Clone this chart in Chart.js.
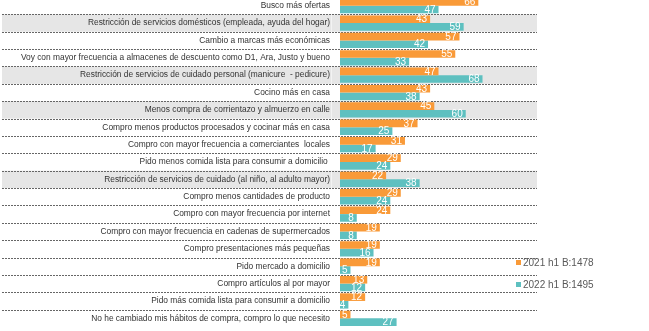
<!DOCTYPE html>
<html><head><meta charset="utf-8">
<script src="https://cdn.jsdelivr.net/npm/chart.js@4.4.1/dist/chart.umd.min.js"></script>
<style>
html,body{margin:0;padding:0;background:#fff;overflow:hidden;width:649px;height:331px}
#wrap{position:absolute;left:0;top:-3px;width:649px;height:334px}
#legend{position:absolute;left:516px;top:251px;font:10px "Liberation Sans",Arial,sans-serif;color:#595959}
.item{display:flex;align-items:center;height:22.6px;white-space:nowrap}
.sw{width:5px;height:5px;margin-right:2px}
</style></head><body>
<div id="wrap"><canvas id="c" width="649" height="334"></canvas></div>
<div id="legend"></div>
<script>
// Cambios en hábitos de compra, % por ola
const categories = [
  'Busco más ofertas',
  'Restricción de servicios domésticos (empleada, ayuda del hogar)',
  'Cambio a marcas más económicas',
  'Voy con mayor frecuencia a almacenes de descuento como D1, Ara, Justo y bueno',
  'Restricción de servicios de cuidado personal (manicure  - pedicure)',
  'Cocino más en casa',
  'Menos compra de corrientazo y almuerzo en calle',
  'Compro menos productos procesados y cocinar más en casa',
  'Compro con mayor frecuencia a comerciantes  locales',
  'Pido menos comida lista para consumir a domicilio ',
  'Restricción de servicios de cuidado (al niño, al adulto mayor)',
  'Compro menos cantidades de producto',
  'Compro con mayor frecuencia por internet',
  'Compro con mayor frecuencia en cadenas de supermercados',
  'Compro presentaciones más pequeñas',
  'Pido mercado a domicilio',
  'Compro artículos al por mayor',
  'Pido más comida lista para consumir a domicilio',
  'No he cambiado mis hábitos de compra, compro lo que necesito'
];
const serie2021 = [66, 43, 57, 55, 47, 43, 45, 37, 31, 29, 22, 29, 24, 19, 19, 19, 13, 12, 5];
const serie2022 = [47, 59, 42, 33, 68, 38, 60, 25, 17, 24, 38, 24, 8, 8, 16, 5, 12, 4, 27];
const seriesNames = ['2021 h1 B:1478', '2022 h1 B:1495'];
const colors = ['#f99a38', '#5ec0c0'];
const shadedRows = [1, 4, 6, 10]; // filas con fondo gris

const FONT = '"Liberation Sans", Arial, sans-serif';
Chart.defaults.font.family = FONT;

// fondo gris + separadores punteados entre filas (antes de dibujar ejes)
const rowBands = {
  id: 'rowBands',
  beforeDraw(chart){
    const { ctx, chartArea: a } = chart;
    const n = categories.length, h = (a.bottom - a.top) / n;
    const left = 2, right = a.right;
    ctx.save();
    shadedRows.forEach(i => {
      ctx.fillStyle = '#e6e6e6';
      ctx.fillRect(left, a.top + i * h, right - left, h);
      ctx.fillStyle = '#f3f3f3';
      ctx.fillRect(a.left - 9, a.top + i * h, 1, h);
    });
    ctx.strokeStyle = '#666';
    ctx.lineWidth = 1;
    ctx.setLineDash([2, 1]);
    for (let i = 1; i < n; i++){
      const yy = Math.round(a.top + i * h) + 0.5;
      ctx.beginPath(); ctx.moveTo(left, yy); ctx.lineTo(right, yy); ctx.stroke();
    }
    ctx.restore();
  }
};

// etiquetas de valor en blanco al final de cada barra
const valueLabels = {
  id: 'valueLabels',
  afterDatasetsDraw(chart){
    const ctx = chart.ctx;
    ctx.save();
    ctx.font = '10px ' + FONT;
    ctx.fillStyle = '#fff';
    ctx.textAlign = 'right';
    ctx.textBaseline = 'middle';
    chart.data.datasets.forEach((ds, di) => {
      chart.getDatasetMeta(di).data.forEach((bar, i) => {
        ctx.fillText(String(ds.data[i]), bar.x - 3, bar.y + 0.5);
      });
    });
    ctx.restore();
  }
};

new Chart(document.getElementById('c').getContext('2d'), {
  type: 'bar',
  data: {
    labels: categories,
    datasets: [serie2021, serie2022].map((d, k) => ({
      label: seriesNames[k], data: d, backgroundColor: colors[k],
      categoryPercentage: 0.88, barPercentage: 1, borderWidth: 0
    }))
  },
  options: {
    indexAxis: 'y', responsive: false, animation: false, devicePixelRatio: 1,
    layout: { padding: { top: 0, bottom: 4, left: 0, right: 112 } },
    scales: {
      x: { display: false, min: 0, max: 94 },
      y: {
        grid: { display: false, drawTicks: false }, border: { display: false },
        ticks: { font: { size: 8.4 }, color: '#333', padding: 10, autoSkip: false },
        afterFit(s){ s.width = 340; s.paddingTop = 0; s.paddingBottom = 0; }
      }
    },
    plugins: { legend: { display: false }, tooltip: { enabled: false } }
  },
  plugins: [rowBands, valueLabels]
});

// leyenda a la derecha
document.getElementById('legend').innerHTML = seriesNames.map((n, k) =>
  `<div class="item"><span class="sw" style="background:${colors[k]}"></span>${n}</div>`).join('');
</script>
</body></html>
